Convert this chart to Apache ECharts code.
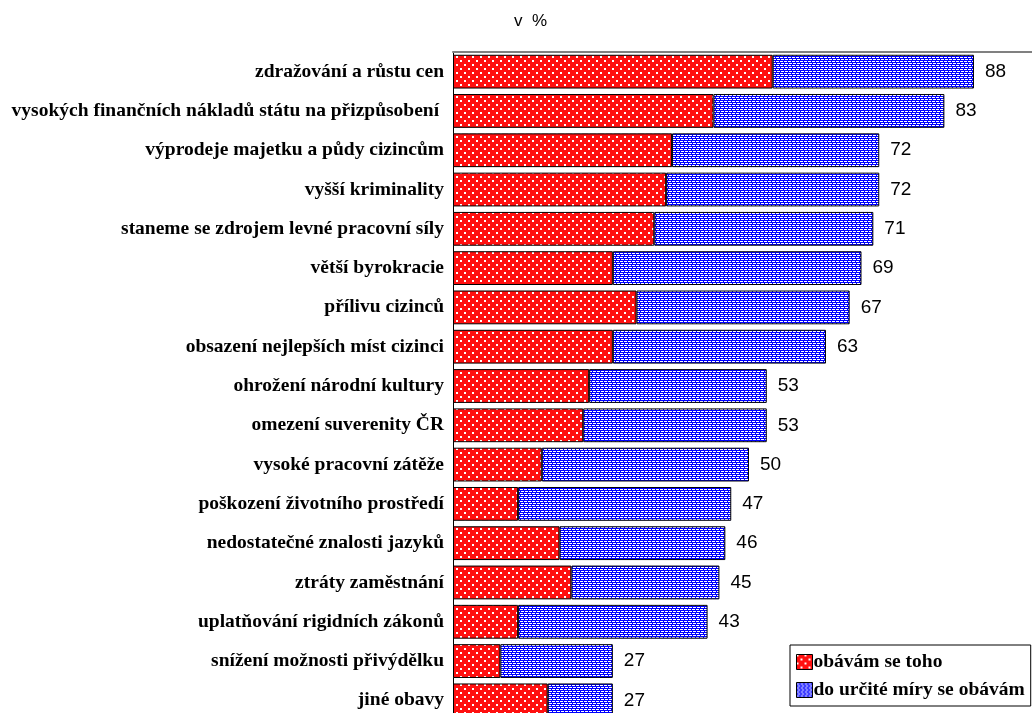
<!DOCTYPE html>
<html>
<head>
<meta charset="utf-8">
<script src="https://cdn.jsdelivr.net/npm/echarts@6/dist/echarts.min.js"></script>
<style>
  html, body { margin: 0; padding: 0; background: #fff; }
  #chart { width: 1032px; height: 713px; }
</style>
</head>
<body>
<div id="chart"></div>
<script>
const categories = [
  'zdražování a růstu cen',
  'vysokých finančních nákladů státu na přizpůsobení ',
  'výprodeje majetku a půdy cizincům',
  'vyšší kriminality',
  'staneme se zdrojem levné pracovní síly',
  'větší byrokracie',
  'přílivu cizinců',
  'obsazení nejlepších míst cizinci',
  'ohrožení národní kultury',
  'omezení suverenity ČR',
  'vysoké pracovní zátěže',
  'poškození životního prostředí',
  'nedostatečné znalosti jazyků',
  'ztráty zaměstnání',
  'uplatňování rigidních zákonů',
  'snížení možnosti přivýdělku',
  'jiné obavy'
]
const obavam = [54, 44, 37, 36, 34, 27, 31, 27, 23, 22, 15, 11, 18, 20, 11, 8, 16]
const doUrcite = [34, 39, 35, 36, 37, 42, 36, 36, 30, 31, 35, 36, 28, 25, 32, 19, 11]
const totals = [88, 83, 72, 72, 71, 69, 67, 63, 53, 53, 50, 47, 46, 45, 43, 27, 27]

// hatch fills like the original office chart
const makePattern = (bg, rows) => {
  const c = document.createElement('canvas')
  c.width = rows[0].length
  c.height = rows.length
  const ctx = c.getContext('2d')
  ctx.fillStyle = bg
  ctx.fillRect(0, 0, c.width, c.height)
  ctx.fillStyle = '#ffffff'
  rows.forEach((row, y) => {
    for (let x = 0; x < row.length; x++) {
      if (row[x] === '#') ctx.fillRect(x, y, 1, 1)
    }
  })
  return { image: c, repeat: 'repeat' }
}

const redFill = makePattern('#ff1010', [
  '##......',
  '##......',
  '........',
  '........',
  '....##..',
  '....##..',
  '........',
  '........'
])
const blueFill = makePattern('#0000ff', [
  '....',
  '###.',
  '....',
  '.###'
])

const chart = echarts.init(document.getElementById('chart'))

chart.setOption({
  animation: false,
  backgroundColor: '#fff',
  title: {
    text: 'v  %',
    left: 509,
    top: 8,
    textStyle: { fontFamily: 'Liberation Sans', fontSize: 17, fontWeight: 'normal', color: '#000' }
  },
  legend: {
    orient: 'vertical',
    left: 790,
    top: 645,
    width: 240,
    padding: [7, 6, 6, 6],
    itemGap: 8,
    itemWidth: 16,
    itemHeight: 15,
    backgroundColor: '#fff',
    borderColor: '#000',
    borderWidth: 1,
    borderRadius: 0,
    itemStyle: { borderColor: '#000', borderWidth: 1 },
    textStyle: { fontFamily: 'Liberation Serif', fontWeight: 'bold', fontSize: 19.5, color: '#000', padding: [0, 0, 0, -4] },
    data: [
      { name: 'obávám se toho', icon: 'rect' },
      { name: 'do určité míry se obávám', icon: 'rect' }
    ]
  },
  grid: { left: 453, top: 52, width: 579, height: 668, outerBoundsMode: 'none' },
  xAxis: {
    type: 'value',
    min: 0,
    max: 97.8,
    position: 'top',
    axisLine: { show: true, lineStyle: { color: '#808080', width: 2 } },
    axisTick: { show: false },
    axisLabel: { show: false },
    splitLine: { show: false }
  },
  yAxis: {
    type: 'category',
    inverse: true,
    data: categories,
    axisLine: { show: true, lineStyle: { color: '#000', width: 1 } },
    axisTick: { show: false },
    axisLabel: {
      margin: 9,
      fontFamily: 'Liberation Serif',
      fontWeight: 'bold',
      fontSize: 19.5,
      color: '#000'
    }
  },
  series: [
    {
      name: 'obávám se toho',
      type: 'bar',
      stack: 'total',
      barCategoryGap: '14%',
      data: obavam,
      itemStyle: { color: redFill, borderColor: '#000', borderWidth: 1 }
    },
    {
      name: 'do určité míry se obávám',
      type: 'bar',
      stack: 'total',
      barCategoryGap: '14%',
      data: doUrcite,
      itemStyle: { color: blueFill, borderColor: '#000', borderWidth: 1 },
      label: {
        show: true,
        position: 'right',
        distance: 11,
        formatter: (p) => totals[p.dataIndex],
        fontFamily: 'Liberation Sans',
        fontSize: 19,
        color: '#000'
      }
    }
  ]
})

window.addEventListener('resize', () => {
  chart.resize()
})
</script>
</body>
</html>
